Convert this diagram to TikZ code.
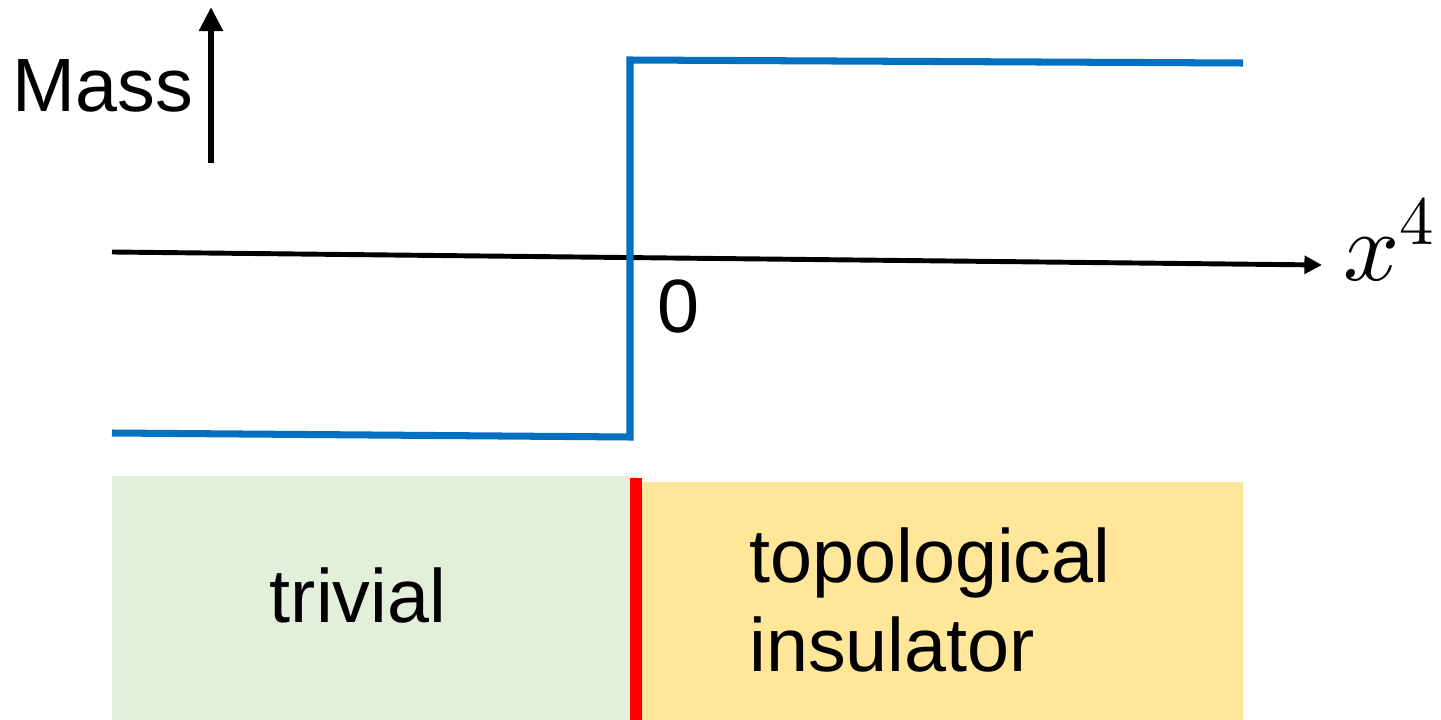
\documentclass[tikz,border=0pt]{standalone}
\usepackage{fontspec}
\usepackage{unicode-math}
\setmainfont{Liberation Sans}
\setmathfont{Latin Modern Math}
\usetikzlibrary{arrows.meta}
\usetikzlibrary{calc}
\definecolor{kek}{HTML}{0070C0}
\definecolor{zold}{HTML}{E2EFDA}
\definecolor{sarga}{HTML}{FFE699}
\tikzset{
felirat/.style={font=\fontsize{43}{50.6}\selectfont, inner sep=0, anchor=base west, align=left},
lepcso/.style={draw=kek, line width=4pt, miter limit=10},
tengely/.style={line width=2.8pt, -{Triangle[length=10pt,width=10pt]}}
}

\begin{document}
\begin{tikzpicture}[x=0.02cm,y=-0.02cm]
\useasboundingbox (0,0) rectangle (1441,720);

\fill[zold] (112,476) rectangle (637,720);
\fill[sarga] (642,482) rectangle (1243,720);
\draw[red, line width=6.3pt] (636,478) -- (636,720);

\coordinate (tengelyA) at (112,252);
\coordinate (tengelyB) at (1322,265);
\draw[tengely] (tengelyA) -- (tengelyB);

\draw[lepcso] (112,433) -- (630,437) -- (630,60) -- (1243,63);

\coordinate (tomegA) at (211,163);
\coordinate (tomegB) at (211,7);
\draw[line width=3.4pt, -{Triangle[length=13.7pt,width=13pt]}] (tomegA) -- (tomegB);

\node[felirat] (tomeg) at (12,111) {Mass};
\node[felirat] (nulla) at (657,332) {0};
\node[inner sep=0, anchor=base west, font=\fontsize{56}{60}\selectfont] (x4) at (1343,280) {$x^4$};
\node[felirat, anchor=base] (trivi) at (358,622) {trivial};
\node[felirat] (topo) at (749,671) {topological\\insulator};
\end{tikzpicture}
\end{document}
